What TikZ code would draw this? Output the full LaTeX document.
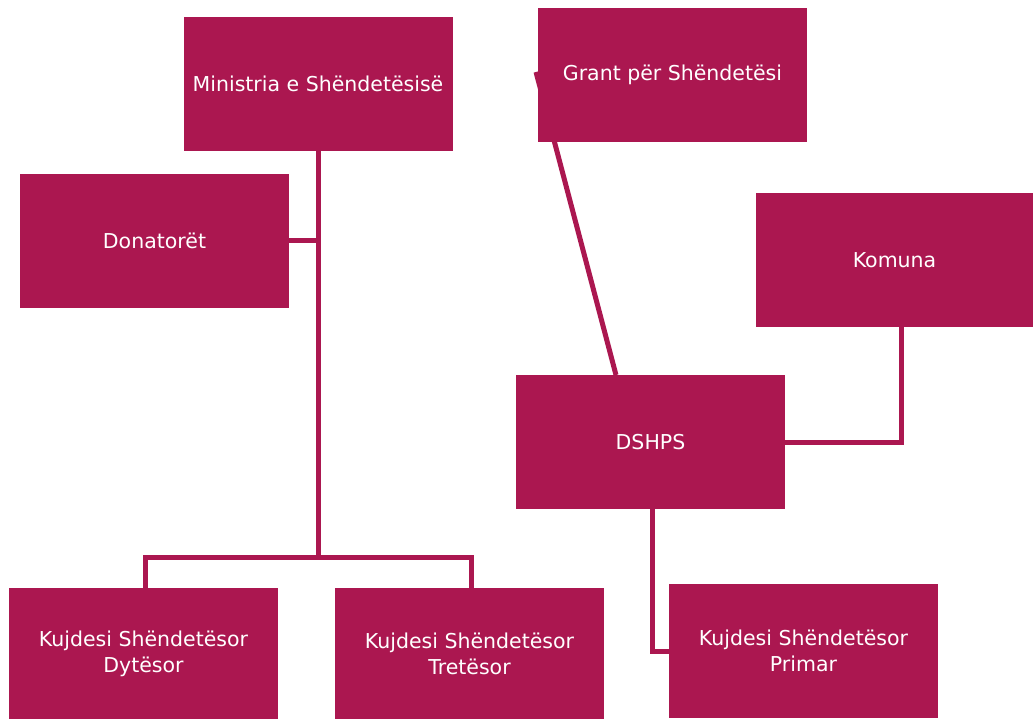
\documentclass[tikz,border=0pt]{standalone}
\usepackage{fontspec}
\setmainfont{DejaVu Sans}
\definecolor{berry}{HTML}{AB1750}
\begin{document}
\begin{tikzpicture}[x=1pt,y=-1pt,
  box/.style={fill=berry, draw=none, text=white, inner sep=0pt, outer sep=0pt,
    minimum width=269pt, minimum height=134pt, align=center,
    font=\fontsize{20.5}{26}\selectfont},
  link/.style={draw=berry, line width=5pt}]
\useasboundingbox (0,0) rectangle (1033,719);

% connector running behind the grant box
\coordinate (gtip) at (536,72);
\coordinate (dtop) at (616,375);
\draw[link] (dtop) -- (gtip);

\node[box] (min) at (318,84) {Ministria e Shëndetësisë};
\node[box] (grant) at (672.5,75) {Grant për Shëndetësi};
\node[box] (don) at (154.5,241) {Donatorët};
\node[box, minimum width=277pt] (kom) at (894.5,260) {Komuna};
\node[box] (dsh) at (650.5,442) {DSHPS};
\node[box, minimum height=131pt] (k2) at (143.5,653.5) {Kujdesi Shëndetësor\\Dytësor};
\node[box, minimum height=131pt] (k3) at (469.5,653.5) {Kujdesi Shëndetësor\\Tretësor};
\node[box] (k1) at (803.5,651) {Kujdesi Shëndetësor\\Primar};

% ministry tree
\coordinate (split) at (318,557);
\draw[link] (min.south) -- (split);
\draw[link] (k2.north -| 145,0) |- (split) -| (k3.north -| 471,0);
\draw[link] (don.east) -- (don.east -| min.south);

% municipal and primary care links
\draw[link] (kom.south -| 901,0) |- (dsh.east);
\draw[link] (dsh.south -| 652,0) |- (k1.west);
\end{tikzpicture}
\end{document}
